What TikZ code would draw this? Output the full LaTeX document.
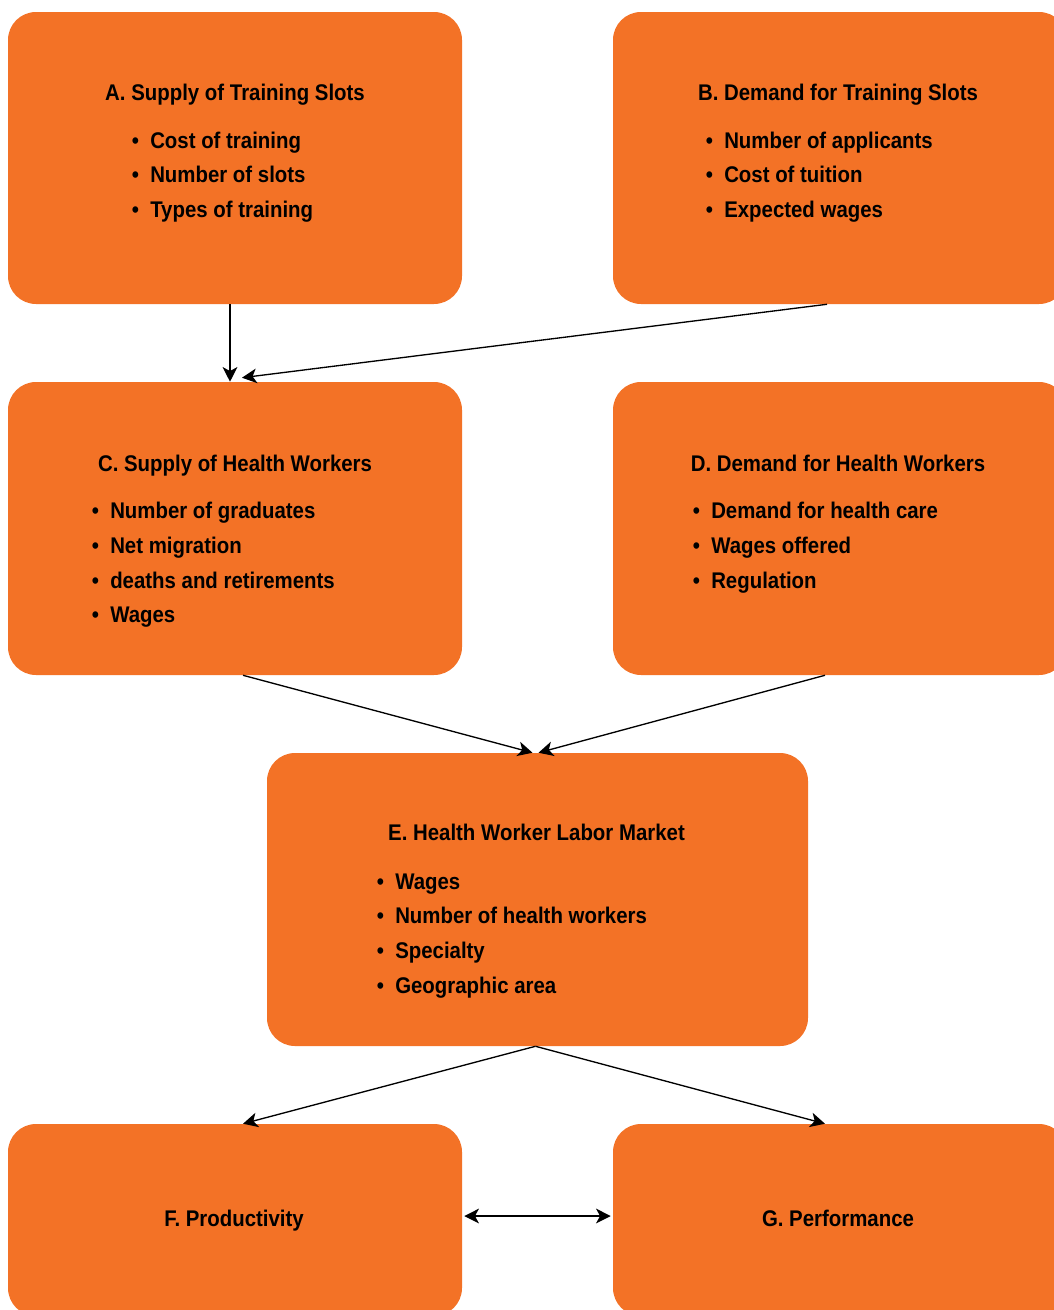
\documentclass[tikz,border=0pt]{standalone}
\usepackage{fontspec}
\setmainfont{Liberation Sans}[FakeStretch=0.9]
\usetikzlibrary{arrows.meta,calc}
\definecolor{boxorange}{HTML}{F37226}
\begin{document}
\begin{tikzpicture}[x=0.75pt,y=-0.75pt,
  box/.style={fill=boxorange,draw=none,rounded corners=21pt,inner sep=0pt},
  ttl/.style={anchor=base,inner sep=0pt,font=\fontsize{17pt}{20pt}\selectfont\bfseries},
  itm/.style={anchor=base west,inner sep=0pt,font=\fontsize{17pt}{20pt}\selectfont\bfseries},
  conn/.style={draw=black,line width=1pt,-{Stealth[length=11pt,width=11pt,inset=3pt]}},
  conn2/.style={draw=black,line width=1pt,{Stealth[length=11pt,width=11pt,inset=3pt]}-{Stealth[length=11pt,width=11pt,inset=3pt]}}]
\useasboundingbox (0,0) rectangle (1053,1310);
\newcommand{\bul}{\llap{•\hspace{8.5pt}}}
% boxes
\node[box,minimum width=340.5pt,minimum height=219pt] (A) at (235,158) {};
\node[box,minimum width=340.5pt,minimum height=219pt] (B) at (840,158) {};
\node[box,minimum width=340.5pt,minimum height=219.75pt] (C) at (235,528.5) {};
\node[box,minimum width=340.5pt,minimum height=219.75pt] (D) at (840,528.5) {};
\node[box,minimum width=405.75pt,minimum height=219.75pt] (E) at (537.5,899.5) {};
\node[box,minimum width=340.5pt,minimum height=144pt] (F) at (235,1220) {};
\node[box,minimum width=340.5pt,minimum height=144pt] (G) at (840,1220) {};
% texts A
\node[ttl] (At) at (235,100.5) {A. Supply of Training Slots};
\node[itm] (A1) at (150,148) {\bul Cost of training};
\node[itm] (A2) at (150,182) {\bul Number of slots};
\node[itm] (A3) at (150,217) {\bul Types of training};
% texts B
\node[ttl] (Bt) at (838,100.5) {B. Demand for Training Slots};
\node[itm] (B1) at (724,148) {\bul Number of applicants};
\node[itm] (B2) at (724,182) {\bul Cost of tuition};
\node[itm] (B3) at (724,217) {\bul Expected wages};
% texts C
\node[ttl] (Ct) at (235,471.5) {C. Supply of Health Workers};
\node[itm] (C1) at (110,518) {\bul Number of graduates};
\node[itm] (C2) at (110,553) {\bul Net migration};
\node[itm] (C3) at (110,588) {\bul deaths and retirements};
\node[itm] (C4) at (110,622) {\bul Wages};
% texts D
\node[ttl] (Dt) at (838,471.5) {D. Demand for Health Workers};
\node[itm] (D1) at (711,518) {\bul Demand for health care};
\node[itm] (D2) at (711,553) {\bul Wages offered};
\node[itm] (D3) at (711,588) {\bul Regulation};
% texts E
\node[ttl] (Et) at (536.5,840.5) {E. Health Worker Labor Market};
\node[itm] (E1) at (395,889) {\bul Wages};
\node[itm] (E2) at (395,923) {\bul Number of health workers};
\node[itm] (E3) at (395,958) {\bul Specialty};
\node[itm] (E4) at (395,993) {\bul Geographic area};
% texts F G
\node[ttl] (Ft) at (234,1226.5) {F. Productivity};
\node[ttl] (Gt) at (838,1226.5) {G. Performance};
% connectors
\draw[conn] ($(A.south)+(-5,0)$) -- ($(C.north)+(-5,0)$);
\draw[conn] ($(B.south)+(-13,0)$) -- ($(C.north)+(7,-4)$);
\draw[conn] ($(C.south)+(8,0)$) -- ($(E.north)+(-5,0)$);
\draw[conn] ($(D.south)+(-15,0)$) -- ($(E.north)+(1,0)$);
\draw[conn] ($(E.south)+(-2,0)$) -- ($(F.north)+(8,0)$);
\draw[conn] ($(E.south)+(-2,0)$) -- ($(G.north)+(-15,0)$);
\draw[conn2] ($(F.east)+(2,-4)$) -- ($(G.west)+(-2,-4)$);
\end{tikzpicture}
\end{document}
